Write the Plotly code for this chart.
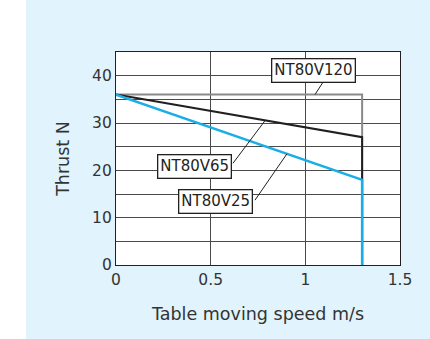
import plotly.graph_objects as go

# Data
speed_v120 = [0, 1.3, 1.3]
thrust_v120 = [36, 36, 0]
speed_v65 = [0, 1.3, 1.3]
thrust_v65 = [36, 27, 0]
speed_v25 = [0, 1.3, 1.3]
thrust_v25 = [36, 18, 0]

labels = ["NT80V120", "NT80V65", "NT80V25"]
x_ticks = [0, 0.5, 1, 1.5]
x_tick_text = ["0", "0.5", "1", "1.5"]
y_ticks = [0, 10, 20, 30, 40]

FONT = "DejaVu Sans, sans-serif"
INK = "#231f20"
GRID = "#4a4a4a"

fig = go.Figure()
fig.add_trace(go.Scatter(x=speed_v120, y=thrust_v120, mode="lines",
                         line=dict(color="#8a8a8a", width=2), showlegend=False))
fig.add_trace(go.Scatter(x=speed_v65, y=thrust_v65, mode="lines",
                         line=dict(color=INK, width=2), showlegend=False))
fig.add_trace(go.Scatter(x=speed_v25, y=thrust_v25, mode="lines",
                         line=dict(color="#1aaee6", width=2.5), showlegend=False))

# leader lines (label connectors)
leaders = [((1.051, 36), (1.093, 38.6)),
           ((0.787, 30.5), (0.618, 21.5)),
           ((0.903, 23.5), (0.734, 13.7))]
for (x0, y0), (x1, y1) in leaders:
    fig.add_shape(type="line", x0=x0, y0=y0, x1=x1, y1=y1, xref="x", yref="y",
                  line=dict(color=INK, width=1))

label_pos = [(1.042, 41.0), (0.415, 20.8), (0.528, 13.5)]
for t, (lx, ly) in zip(labels, label_pos):
    fig.add_annotation(x=lx, y=ly, xref="x", yref="y", text=t, showarrow=False,
                       font=dict(family=FONT, size=15, color=INK),
                       bgcolor="white", bordercolor=INK, borderwidth=1.3,
                       borderpad=2)

# white strip at the far left (outside the light blue panel)
fig.add_shape(type="rect", xref="paper", yref="paper", x0=-0.5, x1=-0.317,
              y0=-0.5, y1=1.5, fillcolor="white", line=dict(width=0), layer="below")

fig.update_layout(
    width=430, height=339,
    margin=dict(l=116, r=30, t=52, b=74),
    paper_bgcolor="#e1f3fc",
    plot_bgcolor="white",
    font=dict(family=FONT, size=15.5, color="#333"),
    xaxis=dict(range=[0, 1.5], tickvals=x_ticks, ticktext=x_tick_text,
               showgrid=True, gridcolor=GRID, gridwidth=1.2,
               showline=True, linecolor=INK, linewidth=1.3, mirror=True,
               zeroline=False, ticks="", ticklen=0,
               title=dict(text="Table moving speed m/s", font=dict(size=17.5), standoff=19)),
    yaxis=dict(range=[0, 45], tickvals=y_ticks,
               showgrid=True, gridcolor=GRID, gridwidth=1.2,
               minor=dict(dtick=5, tick0=0, showgrid=True, gridcolor=GRID, gridwidth=1.2),
               showline=True, linecolor=INK, linewidth=1.3, mirror=True,
               zeroline=False, ticks="", ticklen=0,
               title=dict(text="Thrust N", font=dict(size=17.5), standoff=17)),
)

fig.write_html("out.html")
